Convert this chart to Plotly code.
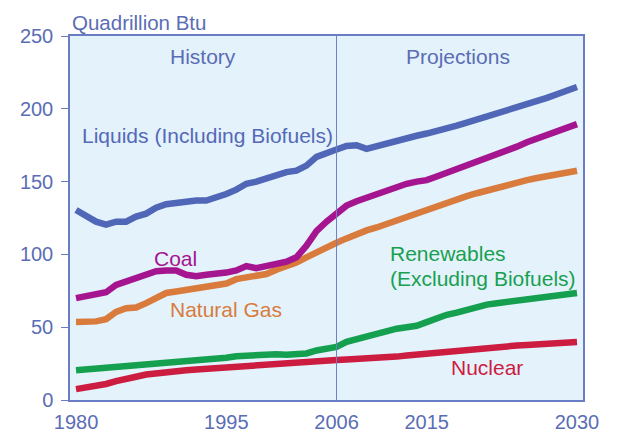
import plotly.graph_objects as go

years = list(range(1980, 2031))

liquids = [130.5, 126, 122.5, 120.5, 122.5, 122.5, 126, 128, 132, 134.5,
           135.5, 136.5, 137, 137, 139, 141.5, 144.5, 148.5, 150, 152.5,
           155, 156.5, 157.5, 161, 167, 170, 172, 174.5, 175, 172.5,
           174.5, 176.5, 178, 180, 181.5, 183, 184.5, 186.5, 188.5, 190.5,
           192.5, 194.5, 196.5, 198.5, 200.5, 202.5, 205, 207.5, 210, 212.5, 215]
coal = [70, 71, 72.5, 74, 79, 81.5, 83, 85.5, 88.5, 89,
        89, 86, 85, 86, 86.5, 87.5, 89, 92, 90.5, 91.5,
        93.5, 95, 98, 106, 116, 122.5, 128, 133.5, 136.5, 139,
        141.5, 144, 146.5, 148.5, 150, 151, 153.5, 156, 158.5, 160.5,
        163, 165.5, 168.5, 171, 174, 177, 179.5, 182, 184.5, 187, 189.5]
natural_gas = [53.5, 53.5, 54, 55.5, 60.5, 63, 63.5, 66.5, 70, 73.5,
               74.5, 75.5, 76, 78, 78, 80, 83, 84.5, 85, 86.5,
               89.5, 91.5, 94.5, 98, 101.5, 105.5, 108, 111, 114, 116.5,
               118.5, 121, 123.5, 126, 128.5, 131, 133.5, 135.5, 138, 140,
               142, 144, 146, 147.5, 149.5, 151, 152.5, 154, 155.5, 156.5, 157.5]
renewables = [20.5, 21, 22, 23, 23.5, 24, 24, 24.5, 25, 25.5,
              26, 26.5, 27, 27.5, 28, 29, 30, 30.5, 30.5, 31,
              31.5, 31, 31.5, 32, 34, 35.5, 36.5, 40, 42, 44,
              46, 47.5, 49, 50, 51, 53.5, 56.5, 58.5, 60, 62,
              64, 65.5, 66.5, 67.5, 68.5, 69.5, 70.5, 71.5, 72.5, 73, 73.5]
nuclear = [7.5, 8.5, 9.5, 11, 13, 15, 16, 17.5, 18.5, 19.5,
           20, 20.5, 21, 21.5, 22, 22.5, 23.5, 24, 24, 24.5,
           25.5, 26, 26, 26, 27, 27.5, 27.5, 27.8, 28, 28.3,
           28.8, 29.3, 29.8, 30.5, 31.2, 32, 32.7, 33.4, 34.1, 34.8,
           35.5, 36, 36.5, 37, 37.4, 37.8, 38.2, 38.6, 39, 39.4, 39.8]

x_ticks = [1980, 1995, 2006, 2015, 2030]
y_ticks = [0, 50, 100, 150, 200, 250]

series = [
    ("Nuclear", nuclear, "#cc1c40"),
    ("Renewables", renewables, "#14a04e"),
    ("Natural Gas", natural_gas, "#d97b3c"),
    ("Coal", coal, "#a5158f"),
    ("Liquids", liquids, "#4f67b6"),
]

FONT = "Liberation Sans, Arial, Helvetica, sans-serif"
AXIS_C = "#5a6db5"

fig = go.Figure()
for name, vals, col in series:
    fig.add_trace(go.Scatter(x=years, y=vals, mode="lines", name=name,
                             line=dict(color=col, width=6.5), hoverinfo="skip"))

def lab(text, x, y, color, xanchor="center"):
    fig.add_annotation(x=x, y=y, text=text, showarrow=False, xanchor=xanchor,
                       yanchor="middle", font=dict(family=FONT, size=21, color=color))

lab("History", 1992.7, 235.6, AXIS_C)
lab("Projections", 2018.1, 235.6, AXIS_C)
lab("Liquids (Including Biofuels)", 1980.4, 181.5, "#5469b8", "left")
lab("Coal", 1989.9, 97.5, "#a5158f")
lab("Natural Gas", 1995.0, 62.5, "#d97b3c")
lab("Renewables", 2011.1, 100.5, "#18a050", "left")
lab("(Excluding Biofuels)", 2011.1, 83.5, "#18a050", "left")
lab("Nuclear", 2021.0, 22.5, "#cc1c40")

fig.add_annotation(x=0, y=1, xref="paper", yref="paper", text="Quadrillion Btu",
                   showarrow=False, xanchor="left", yanchor="bottom", yshift=0,
                   font=dict(family=FONT, size=20.5, color=AXIS_C))

fig.add_shape(type="line", x0=2006, x1=2006, y0=0, y1=250, xref="x", yref="y",
              line=dict(color="#6e80c6", width=1), layer="above")

# page body has an 8px margin, so the figure is offset by (8, 8)
fig.update_layout(
    width=610, height=426,
    margin=dict(l=62, r=35, t=28, b=34),
    paper_bgcolor="white", plot_bgcolor="#e4f2fc",
    showlegend=False,
    font=dict(family=FONT, size=20, color=AXIS_C),
)
fig.update_xaxes(range=[1979.4, 2030.6], tickvals=x_ticks, ticktext=[str(v) for v in x_ticks],
                 showgrid=False, zeroline=False, showline=True, linecolor="#6a7dc4",
                 linewidth=1.5, mirror=True, ticks="", automargin=False,
                 ticklabelstandoff=3, tickfont=dict(size=20, color=AXIS_C))
fig.update_yaxes(range=[0, 250], tickvals=y_ticks, showgrid=False, zeroline=False,
                 showline=True, linecolor="#6a7dc4", linewidth=1.5, mirror=True,
                 ticks="outside", ticklen=7, tickcolor="#6a7dc4", ticklabelstandoff=4,
                 automargin=False, tickfont=dict(size=20, color=AXIS_C))

fig.write_html("out.html")
